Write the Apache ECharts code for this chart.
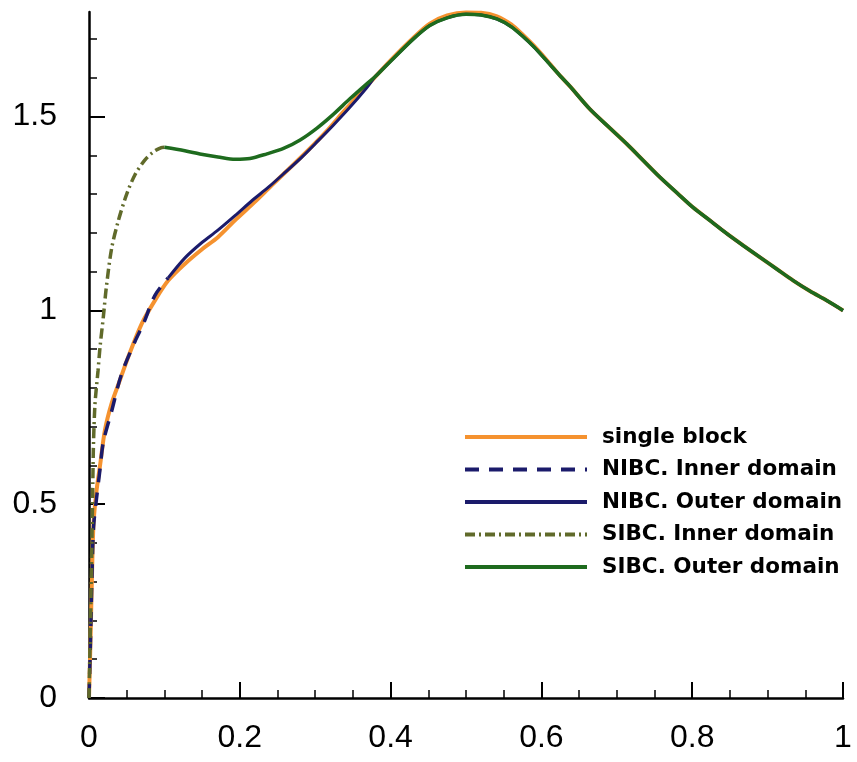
<!DOCTYPE html>
<html>
<head>
<meta charset="utf-8">
<script src="https://cdn.jsdelivr.net/npm/echarts@6/dist/echarts.min.js"></script>
<style>
  html, body { margin: 0; padding: 0; background: #fff; }
  #chart { width: 857px; height: 762px; }
</style>
</head>
<body>
<div id="chart"></div>
<script>
// legend names
const names = ['single block', 'NIBC. Inner domain', 'NIBC. Outer domain', 'SIBC. Inner domain', 'SIBC. Outer domain'];

// tick values
const xTicks = [0, 0.2, 0.4, 0.6, 0.8, 1];
const yMajorTicks = [0, 0.5, 1, 1.5];
const yMinorTicks = [0.1, 0.2, 0.3, 0.4, 0.6, 0.7, 0.8, 0.9, 1.1, 1.2, 1.3, 1.4, 1.6, 1.7];

// shared descent of both outer domains (x >= 0.38)
const tailX = [0.38, 0.4, 0.43, 0.452, 0.475, 0.5, 0.52, 0.541, 0.56, 0.576, 0.59, 0.607, 0.625, 0.638, 0.664, 0.69, 0.713, 0.735, 0.757, 0.78, 0.801, 0.825, 0.846, 0.868, 0.89, 0.912, 0.934, 0.956, 0.978, 1.0];
const tailY = [1.604, 1.643, 1.7, 1.735, 1.755, 1.764, 1.762, 1.752, 1.732, 1.706, 1.68, 1.644, 1.605, 1.578, 1.52, 1.472, 1.43, 1.387, 1.344, 1.303, 1.266, 1.23, 1.198, 1.167, 1.137, 1.107, 1.077, 1.05, 1.026, 1.0];

// single block
const singleX = [0, 0.002, 0.004, 0.006, 0.01, 0.015, 0.021, 0.03, 0.041, 0.052, 0.07, 0.0875, 0.105, 0.127, 0.15, 0.171, 0.195, 0.22, 0.242, 0.265, 0.29, 0.313, 0.34, 0.37, 0.4, 0.43, 0.452, 0.475, 0.5, 0.52, 0.541, 0.56, 0.576, 0.59, 0.607, 0.625, 0.638, 0.664, 0.69, 0.713, 0.735, 0.757, 0.78, 0.801, 0.825, 0.846, 0.868, 0.89, 0.912, 0.934, 0.956, 0.978, 1.0];
const singleY = [0, 0.15, 0.32, 0.45, 0.535, 0.605, 0.69, 0.76, 0.82, 0.88, 0.966, 1.026, 1.077, 1.12, 1.158, 1.189, 1.235, 1.28, 1.322, 1.365, 1.412, 1.458, 1.518, 1.582, 1.645, 1.703, 1.74, 1.761, 1.769, 1.768, 1.759, 1.738, 1.71, 1.683, 1.646, 1.605, 1.578, 1.52, 1.472, 1.43, 1.387, 1.344, 1.303, 1.266, 1.23, 1.198, 1.167, 1.137, 1.107, 1.077, 1.05, 1.026, 1.0];

// NIBC
const nibcInX = [0, 0.002, 0.004, 0.006, 0.01, 0.0146, 0.019, 0.03, 0.043, 0.061, 0.072, 0.0875, 0.105];
const nibcInY = [0, 0.15, 0.32, 0.44, 0.515, 0.59, 0.66, 0.74, 0.835, 0.92, 0.965, 1.039, 1.084];
const nibcOutX = [0.105, 0.127, 0.149, 0.171, 0.194, 0.216, 0.238, 0.26, 0.282, 0.304, 0.324, 0.346, 0.368].concat(tailX);
const nibcOutY = [1.084, 1.135, 1.174, 1.207, 1.245, 1.283, 1.318, 1.356, 1.395, 1.438, 1.478, 1.524, 1.574].concat(tailY);

// SIBC
const sibcInX = [0, 0.002, 0.004, 0.005, 0.006, 0.008, 0.012, 0.0146, 0.019, 0.023, 0.03, 0.039, 0.05, 0.061, 0.074, 0.086, 0.096, 0.1];
const sibcInY = [0, 0.2, 0.42, 0.55, 0.66, 0.76, 0.845, 0.905, 0.983, 1.06, 1.16, 1.232, 1.3, 1.35, 1.388, 1.41, 1.42, 1.421];
const sibcOutX = [0.1, 0.127, 0.149, 0.171, 0.194, 0.2135, 0.236, 0.258, 0.28, 0.302, 0.324, 0.346, 0.368].concat(tailX);
const sibcOutY = [1.421, 1.412, 1.403, 1.396, 1.39, 1.392, 1.404, 1.418, 1.44, 1.47, 1.506, 1.546, 1.584].concat(tailY);

const pairs = (xs, ys) => xs.map((x, i) => [x, ys[i]]);

const font = "'Liberation Sans', Arial, sans-serif";

function line(name, xs, ys, color, width, type) {
    return {
        name: name,
        type: 'line',
        data: pairs(xs, ys),
        symbol: 'none',
        smooth: 0.3,
        clip: false,
        lineStyle: { color: color, width: width, type: type },
        itemStyle: { color: color, opacity: 0 }
    };
}

let myChart = echarts.init(document.getElementById('chart'));
let option = {
    backgroundColor: '#fff',
    animation: false,
    grid: { left: 89, right: 14, top: 12, bottom: 64 },
    legend: {
        orient: 'vertical',
        left: 458,
        top: 421,
        itemWidth: 122,
        itemHeight: 14,
        itemGap: 10.5,
        data: names,
        itemStyle: { opacity: 0 },
        lineStyle: { width: 4 },
        textStyle: {
            fontFamily: "'DejaVu Sans', sans-serif",
            fontWeight: 'bold',
            fontSize: 21.5,
            lineHeight: 21,
            color: '#000',
            padding: [0, 0, 0, 10]
        }
    },
    xAxis: {
        type: 'value',
        min: 0,
        max: 1,
        interval: 0.2,
        axisLine: { lineStyle: { color: '#000', width: 2.5 } },
        axisTick: { inside: true, length: 16, lineStyle: { color: '#000', width: 2 } },
        minorTick: { show: true, splitNumber: 4, length: 8, lineStyle: { color: '#000', width: 1.5 } },
        splitLine: { show: false },
        axisLabel: {
            customValues: xTicks,
            margin: 24,
            fontSize: 32,
            fontFamily: font,
            color: '#000'
        }
    },
    yAxis: [
        {
            type: 'value',
            position: 'left',
            min: 0,
            max: 1.77,
            axisLine: { lineStyle: { color: '#000', width: 2.5 } },
            axisTick: { inside: true, length: 8, customValues: yMinorTicks, lineStyle: { color: '#000', width: 1.5 } },
            splitLine: { show: false },
            axisLabel: { show: false }
        },
        {
            type: 'value',
            position: 'left',
            min: 0,
            max: 1.77,
            axisLine: { show: false },
            axisTick: { inside: true, length: 16, customValues: yMajorTicks, lineStyle: { color: '#000', width: 2 } },
            splitLine: { show: false },
            axisLabel: {
                customValues: yMajorTicks,
                margin: 32,
                fontSize: 32,
                fontFamily: font,
                color: '#000'
            }
        }
    ],
    series: [
        line(names[0], singleX, singleY, '#f5922f', 4, 'solid'),
        line(names[1], nibcInX, nibcInY, '#1b1b6b', 3.5, [14, 10]),
        line(names[2], nibcOutX, nibcOutY, '#1b1b6b', 3, 'solid'),
        line(names[3], sibcInX, sibcInY, '#606a2a', 3.5, [10, 4, 2, 4]),
        line(names[4], sibcOutX, sibcOutY, '#1e6b1e', 3.5, 'solid')
    ]
};
myChart.setOption(option);
</script>
</body>
</html>
